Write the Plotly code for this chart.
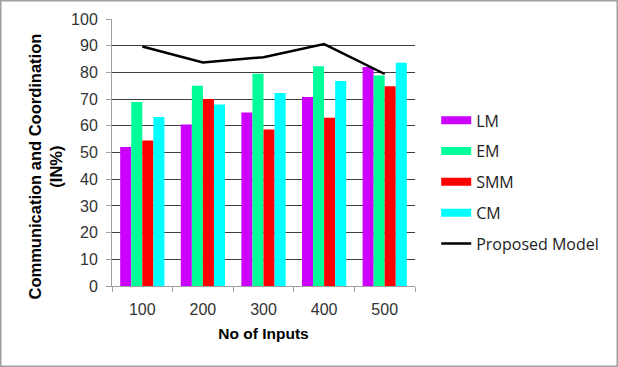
import plotly.graph_objects as go

categories = ["100", "200", "300", "400", "500"]
lm = [52.1, 60.5, 65.0, 70.8, 82.0]
em = [68.9, 75.0, 79.5, 82.3, 78.8]
smm = [54.5, 70.0, 58.6, 63.0, 74.8]
cm = [63.3, 68.0, 72.3, 76.8, 83.6]
proposed = [89.7, 83.7, 85.7, 90.6, 79.4]
y_ticks = list(range(0, 101, 10))

colors = {"LM": "#CC00FF", "EM": "#00FF99", "SMM": "#FF0000", "CM": "#00FFFF"}
series = [("LM", lm), ("EM", em), ("SMM", smm), ("CM", cm)]

fig = go.Figure()
for i, (name, vals) in enumerate(series):
    fig.add_trace(go.Bar(x=categories, y=vals, name=name, marker_color=colors[name],
                         marker_line_width=0, showlegend=False))
# legend entries with wide swatches (no marks drawn)
for i, (name, vals) in enumerate(series):
    fig.add_trace(go.Scatter(x=[None], y=[None], name=name, mode="lines",
                             line=dict(color=colors[name], width=8), legendgroup=str(i)))
fig.add_trace(go.Scatter(x=categories, y=proposed, name="Proposed Model", mode="lines",
                         line=dict(color="black", width=2.5), legendgroup="5"))

fig.update_layout(
    width=618, height=367,
    margin=dict(l=112, r=203, t=19, b=81),
    paper_bgcolor="white", plot_bgcolor="white",
    barmode="group", bargap=0.27, bargroupgap=0,
    font=dict(family="Liberation Sans, Arial, sans-serif", size=16, color="#333"),
    legend=dict(x=1.07, y=0.39, xanchor="left", yanchor="middle",
                font=dict(family="Open Sans, sans-serif", size=16, color="#222"),
                tracegroupgap=7, itemwidth=30, bgcolor="rgba(0,0,0,0)"),
    showlegend=True,
)
fig.update_yaxes(range=[0, 100], tickvals=y_ticks, showgrid=True, gridcolor="#404040", gridwidth=1,
                 showline=True, linecolor="#A0A0A0", linewidth=1, ticks="outside", ticklen=5,
                 tickcolor="#A0A0A0", zeroline=False, ticklabelstandoff=5)
fig.update_xaxes(showline=True, linecolor="#A0A0A0", linewidth=1, ticks="outside", ticklen=5,
                 tickcolor="#A0A0A0", tickson="boundaries", showgrid=False, ticklabelstandoff=9,
                 title=dict(text="<b>No of Inputs</b>", font=dict(size=15.5, color="#000"), standoff=10))
fig.add_annotation(text="<b>Communication and Coordination<br>(IN%)</b>", textangle=-90,
                   xref="paper", yref="paper", x=(44.5 - 112) / 303, y=(286 - 167) / 267,
                   xanchor="center", yanchor="middle", showarrow=False,
                   font=dict(size=16.5, color="#000"))
fig.add_shape(type="rect", xref="paper", yref="paper",
              x0=(0.75 - 112) / 303, x1=1 + 202.25 / 303, y0=-80.25 / 267, y1=1 + 18.25 / 267,
              line=dict(color="#A0A0A0", width=1.5), fillcolor="rgba(0,0,0,0)", layer="below")
fig.write_html("out.html", config={"displayModeBar": False},
               post_script="document.body.style.margin='0';")
